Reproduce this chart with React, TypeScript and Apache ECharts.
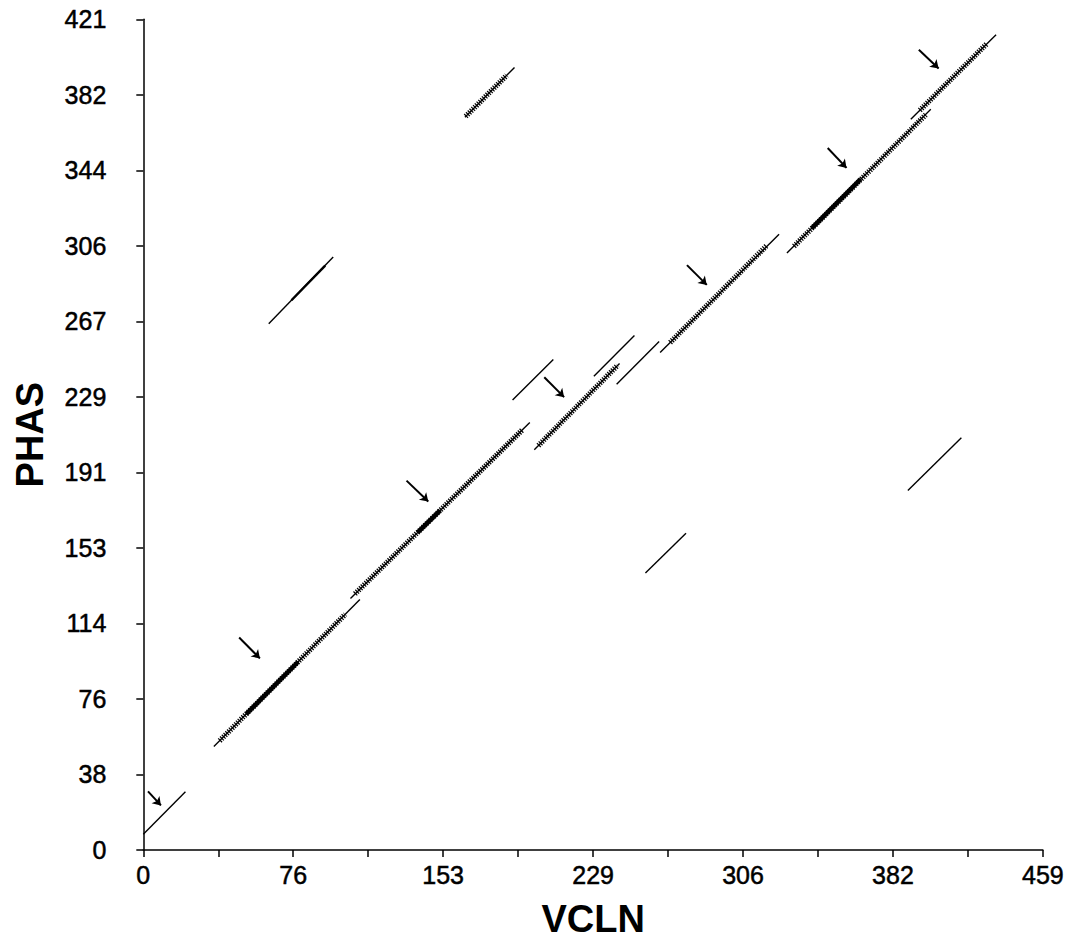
import React, { useEffect, useRef } from "react";
import * as echarts from "echarts";

// Axis ranges / tick labels
const xMax = 459;
const yMax = 421;
const xTickLabels = ["0", "76", "153", "229", "306", "382", "459"];
const yTickLabels = ["0", "38", "76", "114", "153", "191", "229", "267", "306", "344", "382", "421"];

// Diagonal match runs: [x1, y1, x2, y2] in sequence positions (VCLN, PHAS)
const thinRuns: number[][] = [
  [0, 8, 21.5, 29.5],
  [36, 52.4, 110.5, 126.9],
  [105.7, 127.5, 197.2, 216.6],
  [199.5, 202.8, 243, 246.6],
  [188.4, 228, 209.2, 248.6],
  [229.9, 240.1, 250.6, 260.7],
  [241.5, 236, 263.2, 257.7],
  [263.7, 252.1, 324.4, 312.1],
  [328.4, 302.5, 401.8, 375.4],
  [391.6, 370.4, 435.1, 413.2],
  [164.1, 371.4, 189.4, 396.6],
  [64, 266.7, 96.9, 300.5],
  [256.2, 140.4, 276.9, 160.5],
  [390.1, 182.2, 417.4, 208.9],
];

// Hatched (repeated-dot) parts of runs
const hatchedRuns: number[][] = [
  [39, 55.4, 103, 119.4],
  [108, 129.8, 193.5, 213],
  [201.6, 205, 242, 245.6],
  [268.8, 257.2, 318.3, 306.5],
  [332, 306, 399.2, 372.6],
  [396.2, 374.9, 430.6, 408.8],
  [164.5, 371.8, 185.4, 392.6],
];

// Dense (solid) parts of runs
const denseRuns: number[][] = [
  [52.5, 68.9, 79, 95.4],
  [139.9, 160.8, 151.5, 172.1],
  [341, 315, 366, 340],
];

// Slightly heavier parts of plain runs
const heavyRuns: number[][] = [[75.6, 278.6, 92.8, 296.2]];

// Arrows: [tailX, tailY, headX, headY]
const arrows: number[][] = [
  [2.4, 29.7, 9, 22.6],
  [48.9, 107.7, 59.5, 97.1],
  [134.3, 187.2, 145.4, 176.6],
  [204.6, 239.6, 214.7, 229.5],
  [277.4, 296.4, 287.5, 286.4],
  [349.2, 355.8, 358.8, 345.7],
  [395.7, 405.6, 405.8, 396.1],
];

const toLines = (arr: number[][]) =>
  arr.map((s) => ({ coords: [[s[0], s[1]], [s[2], s[3]]] }));

const FONT = "'Liberation Sans', Arial, sans-serif";

export default function App() {
  const ref = useRef<HTMLDivElement>(null);
  useEffect(() => {
    if (!ref.current) return;
    const chart = echarts.init(ref.current, undefined, { renderer: "svg" });
    const xStep = xMax / 12;
    const yStep = yMax / 11;
    const labelStyle = {
      color: "#000",
      fontSize: 25,
      fontFamily: FONT,
      textBorderColor: "#000",
      textBorderWidth: 0.5,
    };
    chart.setOption({
      animation: false,
      backgroundColor: "#ffffff",
      grid: { left: 143.3, right: 16, top: 19.3, bottom: 87, containLabel: false },
      xAxis: {
        type: "value",
        min: 0,
        max: xMax,
        interval: xStep,
        name: "VCLN",
        nameLocation: "middle",
        nameGap: 50,
        nameTextStyle: { fontSize: 38, fontWeight: "bold", color: "#000", fontFamily: FONT },
        axisLine: { show: true, lineStyle: { color: "#000", width: 1.5 } },
        axisTick: { show: true, length: 7, lineStyle: { color: "#000", width: 1.5 } },
        splitLine: { show: false },
        axisLabel: {
          ...labelStyle,
          margin: 12,
          showMinLabel: true,
          showMaxLabel: true,
          formatter: (v: number) => {
            const k = Math.round(v / xStep);
            return k % 2 === 0 ? xTickLabels[k / 2] : "";
          },
        },
      },
      yAxis: {
        type: "value",
        min: 0,
        max: yMax,
        interval: yStep,
        name: "PHAS",
        nameLocation: "middle",
        nameGap: 94,
        nameTextStyle: { fontSize: 38, fontWeight: "bold", color: "#000", fontFamily: FONT },
        axisLine: { show: true, lineStyle: { color: "#000", width: 1.5 } },
        axisTick: { show: true, length: 7, lineStyle: { color: "#000", width: 1.5 } },
        splitLine: { show: false },
        axisLabel: {
          ...labelStyle,
          margin: 37,
          showMinLabel: true,
          showMaxLabel: true,
          formatter: (v: number) => {
            const k = Math.round(v / yStep);
            return yTickLabels[k] ?? "";
          },
        },
      },
      series: [
        {
          type: "lines",
          coordinateSystem: "cartesian2d",
          silent: true,
          lineStyle: { color: "#000", width: 1.4, opacity: 1 },
          data: toLines(thinRuns),
        },
        {
          type: "lines",
          coordinateSystem: "cartesian2d",
          silent: true,
          lineStyle: { color: "#000", width: 2.4, opacity: 1 },
          data: toLines(heavyRuns),
        },
        {
          type: "lines",
          coordinateSystem: "cartesian2d",
          silent: true,
          lineStyle: { color: "#000", width: 5.5, opacity: 1, type: [1.2, 1.3], cap: "butt" },
          data: toLines(hatchedRuns),
        },
        {
          type: "lines",
          coordinateSystem: "cartesian2d",
          silent: true,
          lineStyle: { color: "#000", width: 4.5, opacity: 1 },
          data: toLines(denseRuns),
        },
        {
          type: "lines",
          coordinateSystem: "cartesian2d",
          silent: true,
          symbol: ["none", "arrow"],
          symbolSize: 8,
          lineStyle: { color: "#000", width: 2, opacity: 1 },
          data: toLines(arrows),
        },
      ],
    });
    return () => chart.dispose();
  }, []);
  return (
    <div
      ref={ref}
      style={{ position: "absolute", left: 0, top: 0, width: 1067, height: 943 }}
    />
  );
}
